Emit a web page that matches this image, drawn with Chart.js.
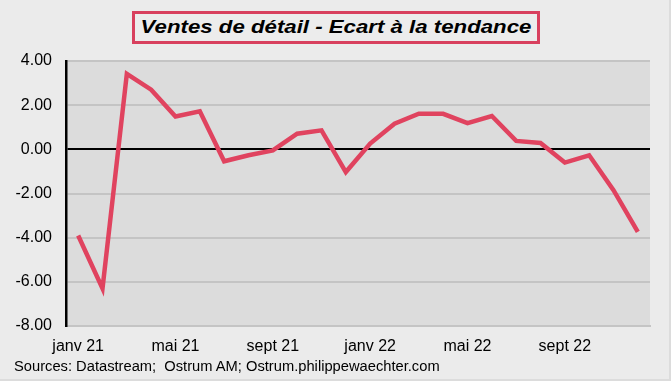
<!DOCTYPE html>
<html>
<head>
<meta charset="utf-8">
<script src="https://cdn.jsdelivr.net/npm/chart.js@4"></script>
<style>
  html, body { margin: 0; padding: 0; background: #ebebeb; }
  #wrap { position: relative; width: 671px; height: 381px; background: #ebebeb; box-sizing: border-box; border-right: 2px solid #dcdcdc; border-bottom: 2px solid #dcdcdc; }
  #title {
    position: absolute; left: 132px; top: 11px; width: 408px; height: 33px; box-sizing: border-box;
    border: 3px solid #d8405e; background: #ececec;
    text-align: center; line-height: 27px;
  }
  #title span {
    display: inline-block; transform: scaleX(1.17);
    font: italic bold 19px "Liberation Sans", Arial, sans-serif; color: #000;
  }
  #source {
    position: absolute; left: 14px; top: 358px; transform-origin: 0 0; transform: scaleX(1.05);
    font: 14px "Liberation Sans", Arial, sans-serif; color: #000; white-space: nowrap;
  }
  canvas { position: absolute; left: 0; top: 0; }
</style>
</head>
<body>
<div id="wrap">
  <canvas id="chart" width="671" height="381"></canvas>
  <div id="title"><span>Ventes de détail - Ecart à la tendance</span></div>
  <div id="source">Sources: Datastream;&nbsp; Ostrum AM; Ostrum.philippewaechter.com</div>
</div>
<script>
/* --------------- Data --------------------- */
const months = [
    "janv 21", "févr 21", "mars 21", "avr 21", "mai 21", "juin 21",
    "juil 21", "août 21", "sept 21", "oct 21", "nov 21", "déc 21",
    "janv 22", "févr 22", "mars 22", "avr 22", "mai 22", "juin 22",
    "juil 22", "août 22", "sept 22", "oct 22", "nov 22", "déc 22"
];
const ecart = [
    -3.9, -6.3, 3.42, 2.7, 1.49, 1.72,
    -0.54, -0.27, -0.05, 0.71, 0.86, -1.03,
    0.26, 1.16, 1.61, 1.61, 1.19, 1.51,
    0.38, 0.29, -0.6, -0.27, -1.85, -3.74
];
const yMin = -8;
const yMax = 4;
const yStep = 2;

/* --------------- Plot background --------------------- */
const plotBackground = {
    id: "plotBackground",
    beforeDraw(chart) {
        const { ctx, chartArea } = chart;
        ctx.save();
        ctx.fillStyle = "#dcdcdc";
        ctx.fillRect(chartArea.left, chartArea.top, chartArea.right - chartArea.left, chartArea.bottom - chartArea.top);
        ctx.restore();
    }
};

const font = { family: "'Liberation Sans', Arial, sans-serif", size: 16 };

/* --------------- Chart --------------------- */
new Chart(document.getElementById("chart"), {
    type: "line",
    plugins: [plotBackground],
    data: {
        labels: months,
        datasets: [
            {
                data: ecart,
                borderColor: "#e0435f",
                borderWidth: 4.5,
                pointRadius: 0,
                tension: 0,
                fill: false
            }
        ]
    },
    options: {
        responsive: false,
        animation: false,
        layout: { padding: { left: 0, top: 61, right: 21, bottom: 0 } },
        plugins: {
            legend: { display: false },
            tooltip: { enabled: false }
        },
        scales: {
            x: {
                offset: true,
                grid: { display: false, drawTicks: false },
                border: { display: true, color: "#c4c4c4", width: 2 },
                afterFit: (scale) => { scale.height = 55; },
                ticks: {
                    autoSkip: false,
                    maxRotation: 0,
                    padding: 11,
                    color: "#000",
                    font: font,
                    callback: (value, index) => (index % 4 === 0 ? months[index] : "")
                }
            },
            y: {
                min: yMin,
                max: yMax,
                afterFit: (scale) => { scale.width = 66; },
                grid: {
                    drawTicks: false,
                    color: (ctx) => (ctx.tick && ctx.tick.value === 0 ? "#000" : "#c4c4c4"),
                    lineWidth: 2
                },
                border: { display: true, color: "#000", width: 2.5 },
                ticks: {
                    stepSize: yStep,
                    padding: 14,
                    color: "#000",
                    font: font,
                    callback: (value) => value.toFixed(2)
                }
            }
        }
    }
});
</script>
</body>
</html>
